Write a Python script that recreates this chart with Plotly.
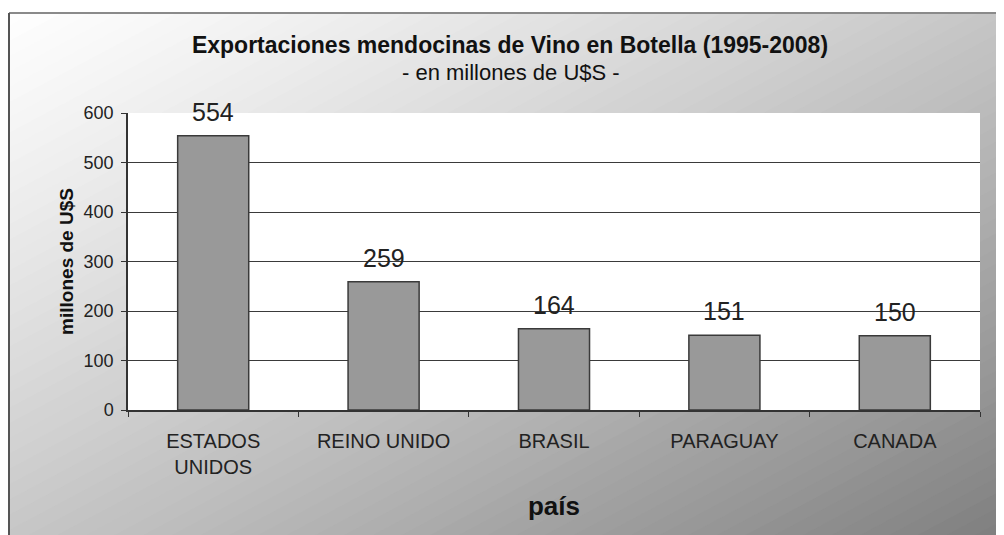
import plotly.graph_objects as go

# ---- data ----
countries = ["ESTADOS<br>UNIDOS", "REINO UNIDO", "BRASIL", "PARAGUAY", "CANADA"]
values = [554, 259, 164, 151, 150]
y_ticks = [0, 100, 200, 300, 400, 500, 600]

# page body has an 8px margin, so the figure starts at page (8, 8)
OFF = 8
PAGE_W, PAGE_H = 1004, 535
W, H = PAGE_W - OFF, PAGE_H - OFF
# plot area in page pixels: x 128..980, y 113..410
ML, MR, MT = 128 - OFF, PAGE_W - 980, 113 - OFF
MB = H - (410 - OFF)
PW, PH = W - ML - MR, H - MT - MB


def px2paper(px, py):
    """page pixel -> paper coordinates"""
    fx, fy = px - OFF, py - OFF
    return (fx - ML) / PW, (H - MB - fy) / PH


FONT = "Liberation Sans, Arial, sans-serif"

shapes = []
# diagonal gradient background (white top-left -> gray bottom-right)
N = 70
for k in range(N):
    s0 = k / N
    s1 = (k + 1.6) / N
    sm = (k + 0.5) / N
    c = int(round(255 - 128 * (sm ** 1.2)))
    c = max(0, min(255, c))
    pts = []
    for (s, py) in [(s0, -5), (s1, -5), (s1, PAGE_H + 5), (s0, PAGE_H + 5)]:
        px = PAGE_W * (2 * s - py / PAGE_H)
        pts.append(px2paper(px, py))
    path = "M " + " L ".join(f"{x:.5f},{y:.5f}" for x, y in pts) + " Z"
    shapes.append(dict(type="path", xref="paper", yref="paper", path=path,
                       fillcolor=f"rgb({c},{c},{c})", line=dict(width=0), layer="below"))

# white strip above the chart frame
x0, y0 = px2paper(-5, -5)
x1, y1 = px2paper(PAGE_W + 5, 13)
shapes.append(dict(type="rect", xref="paper", yref="paper", x0=x0, y0=y0, x1=x1, y1=y1,
                   fillcolor="white", line=dict(width=0), layer="below"))
# frame lines
xa, ya = px2paper(9, 13)
xb, yb = px2paper(PAGE_W + 5, 13)
shapes.append(dict(type="line", xref="paper", yref="paper", x0=xa, y0=ya, x1=xb, y1=yb,
                   line=dict(color="#8a8a8a", width=2), layer="below"))
xb, yb = px2paper(9, PAGE_H + 5)
shapes.append(dict(type="line", xref="paper", yref="paper", x0=xa, y0=ya, x1=xb, y1=yb,
                   line=dict(color="#555555", width=2), layer="below"))
# white plot area
shapes.append(dict(type="rect", xref="x domain", yref="y domain", x0=0, y0=0, x1=1, y1=1,
                   fillcolor="white", line=dict(width=0), layer="below"))

fig = go.Figure()
fig.add_trace(go.Bar(
    x=countries, y=values,
    marker=dict(color="#999999", line=dict(color="#3a3a3a", width=1.5)),
    hoverinfo="x+y",
))

annotations = []
for cat, v in zip(countries, values):
    annotations.append(dict(x=cat, y=v, xref="x", yref="y", text=str(v), showarrow=False,
                            yanchor="bottom", yshift=8,
                            font=dict(family=FONT, size=25, color="#222222")))
sub_x, sub_y = px2paper(511, 72)
annotations.append(dict(x=sub_x, y=sub_y, xref="paper", yref="paper", xanchor="center",
                        yanchor="middle", text="- en millones de U$S -", showarrow=False,
                        font=dict(family=FONT, size=22, color="#111111")))

fig.update_layout(
    width=W, height=H,
    margin=dict(l=ML, r=MR, t=MT, b=MB, autoexpand=False),
    paper_bgcolor="white",
    plot_bgcolor="white",
    showlegend=False,
    bargap=0.583,
    shapes=shapes,
    annotations=annotations,
    title=dict(text="<b>Exportaciones mendocinas de Vino en Botella (1995-2008)</b>",
               x=(510 - OFF) / W, xanchor="center", y=1 - (45 - OFF) / H, yanchor="middle",
               xref="container", yref="container",
               font=dict(family=FONT, size=23, color="#111111")),
    font=dict(family=FONT, color="#222222"),
)

fig.update_xaxes(
    showline=True, linecolor="#333333", linewidth=1.5,
    ticks="outside", ticklen=5, tickcolor="#333333", tickson="boundaries",
    ticklabelstandoff=12,
    tickfont=dict(family=FONT, size=20, color="#222222"),
    title=dict(text="<b>país</b>", font=dict(family=FONT, size=26, color="#111111"), standoff=20),
    showgrid=False, automargin=False,
)
fig.update_yaxes(
    range=[0, 600], tickvals=y_ticks,
    showline=True, linecolor="#333333", linewidth=1.5,
    ticks="outside", ticklen=5, tickcolor="#333333",
    ticklabelstandoff=4,
    tickfont=dict(family=FONT, size=18, color="#222222"),
    showgrid=True, gridcolor="#3a3a3a", gridwidth=1,
    zeroline=False, automargin=False,
    title=dict(text="<b>millones de U$S</b>", font=dict(family=FONT, size=19, color="#111111"),
               standoff=5),
)

fig.write_html("out.html")
